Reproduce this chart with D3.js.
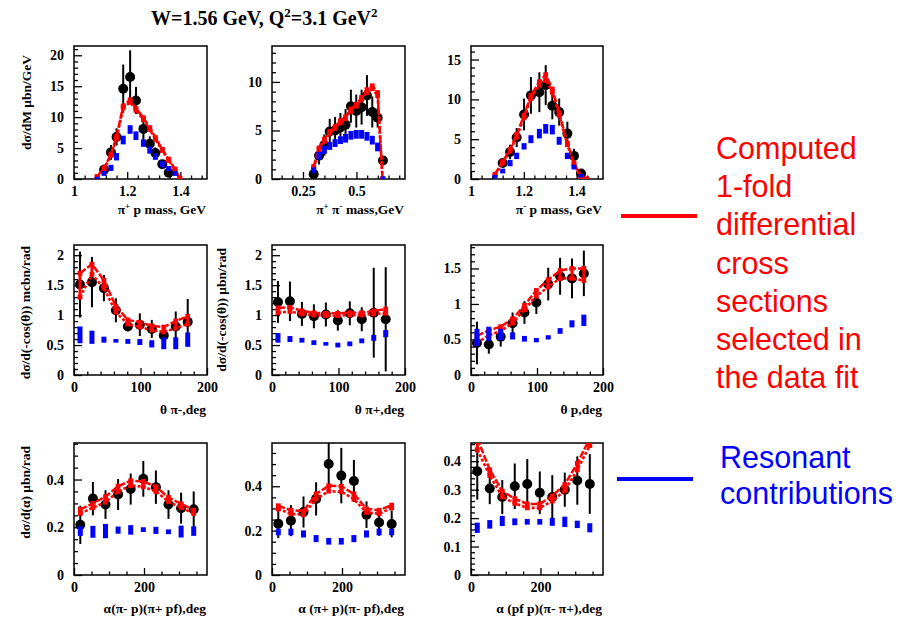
<!DOCTYPE html>
<html><head><meta charset="utf-8">
<script src="https://cdn.jsdelivr.net/npm/d3@7"></script>
<style>body{margin:0;background:#fff}svg{display:block}</style>
</head><body>
<svg id="c" width="902" height="619"></svg>
<script>
// ================= DATA =================
// Panel 1: pi+ p mass
const p1X = [1.113, 1.139, 1.160, 1.185, 1.211, 1.233, 1.261, 1.285, 1.306, 1.332, 1.356];
const p1Y = [1.5, 4.3, 6.8, 14.6, 16.5, 12.7, 8.1, 5.7, 4.2, 2.4, 1.0];
const p1E = [0.8, 1.2, 1.4, 3.9, 4.3, 2.2, 2.0, 1.2, 0.9, 0.6, 0.5];
const p1RedX = [1.087, 1.113, 1.139, 1.160, 1.185, 1.211, 1.233, 1.261, 1.285, 1.306, 1.332, 1.356, 1.380, 1.398];
const p1RedA = [0.4, 1.8, 4.0, 6.9, 11.8, 12.8, 11.4, 9.9, 8.3, 6.7, 4.8, 3.2, 1.6, 0.1];
const p1RedB = [0.3, 1.6, 3.8, 6.6, 11.5, 12.4, 11.1, 9.6, 8.0, 6.4, 4.6, 3.0, 1.4, 0.0];
const p1BlueX = [1.087, 1.113, 1.139, 1.160, 1.185, 1.211, 1.233, 1.261, 1.285, 1.306, 1.332, 1.356, 1.380];
const p1Blue = [0.1, 0.9, 1.8, 3.6, 6.3, 8.0, 7.0, 5.8, 4.7, 3.6, 2.4, 1.7, 0.9];
const p1BlueE = [0.2, 0.4, 0.5, 0.6, 0.7, 0.7, 0.7, 0.6, 0.6, 0.5, 0.5, 0.4, 0.4];

// Panel 2: pi+ pi- mass
const p2X = [0.300, 0.325, 0.350, 0.375, 0.400, 0.425, 0.449, 0.474, 0.499, 0.524, 0.549, 0.574, 0.599, 0.624];
const p2Y = [0.5, 2.4, 3.5, 4.9, 5.0, 5.3, 5.6, 7.5, 7.0, 7.4, 8.6, 6.9, 6.3, 1.9];
const p2E = [0.3, 0.9, 1.1, 1.3, 1.4, 1.5, 1.6, 1.7, 1.7, 1.8, 2.1, 1.6, 1.0, 0.3];
const p2RedX = [0.300, 0.325, 0.350, 0.375, 0.400, 0.425, 0.449, 0.474, 0.499, 0.524, 0.549, 0.574, 0.599, 0.622];
const p2RedA = [1.3, 3.2, 4.1, 4.9, 5.4, 6.0, 6.4, 7.2, 7.7, 8.4, 9.2, 9.6, 8.9, 0.0];
const p2RedB = [1.1, 3.0, 3.9, 4.7, 5.2, 5.8, 6.2, 7.0, 7.5, 8.2, 8.9, 9.3, 8.6, 0.0];
const p2Blue = [0.9, 2.4, 3.0, 3.4, 3.7, 4.0, 4.2, 4.5, 4.6, 4.6, 4.4, 4.0, 3.3, 0.1];
const p2BlueE = [0.3, 0.4, 0.4, 0.4, 0.4, 0.4, 0.45, 0.45, 0.45, 0.45, 0.45, 0.45, 0.45, 0.1];

// Panel 3: pi- p mass
const p3X = [1.120, 1.148, 1.173, 1.201, 1.227, 1.259, 1.283, 1.308, 1.334, 1.365, 1.390, 1.417];
const p3Y = [2.0, 3.4, 5.2, 8.1, 10.5, 10.9, 11.8, 9.2, 8.4, 5.7, 2.9, 0.7];
const p3E = [0.5, 0.9, 1.2, 2.0, 2.3, 2.5, 2.5, 1.7, 1.7, 1.5, 0.9, 0.3];
const p3RedX = [1.091, 1.120, 1.148, 1.173, 1.201, 1.227, 1.259, 1.283, 1.308, 1.334, 1.365, 1.390, 1.417, 1.438];
const p3RedA = [0.6, 2.2, 3.7, 5.6, 8.0, 10.5, 12.2, 13.1, 11.3, 8.3, 4.5, 2.0, 0.3, 0.0];
const p3RedB = [0.5, 2.0, 3.5, 5.3, 7.7, 10.1, 11.8, 12.4, 10.9, 8.0, 4.3, 1.8, 0.2, 0.0];
const p3BlueX = [1.091, 1.120, 1.148, 1.173, 1.201, 1.227, 1.259, 1.283, 1.308, 1.334, 1.365, 1.390, 1.417];
const p3Blue = [0.3, 1.0, 2.0, 2.9, 4.1, 5.0, 5.7, 6.3, 6.2, 4.8, 2.9, 1.5, 0.4];
const p3BlueE = [0.2, 0.3, 0.4, 0.4, 0.4, 0.5, 0.6, 0.6, 0.6, 0.5, 0.4, 0.3, 0.2];

// Row 2: theta bins (deg)
const thetaX = [9, 27, 45, 63, 81, 99, 117, 135, 153, 171];
const p4Y = [1.51, 1.55, 1.45, 1.08, 0.81, 0.84, 0.77, 0.66, 0.81, 0.89];
const p4E = [0.55, 0.42, 0.22, 0.20, 0.08, 0.19, 0.15, 0.03, 0.25, 0.38];
const p4RedA = [1.70, 1.85, 1.58, 1.15, 0.92, 0.88, 0.82, 0.80, 0.90, 0.98];
const p4RedB = [1.30, 1.68, 1.45, 1.05, 0.85, 0.80, 0.75, 0.72, 0.78, 0.85];
const p4Blue = [0.67, 0.63, 0.59, 0.57, 0.56, 0.55, 0.52, 0.53, 0.53, 0.59];
const p4BlueE = [0.14, 0.11, 0.05, 0.03, 0.04, 0.05, 0.06, 0.10, 0.10, 0.12];

const p5Y = [1.22, 1.23, 1.02, 0.98, 1.01, 0.91, 1.03, 0.93, 1.04, 0.93];
const p5E = [0.35, 0.33, 0.20, 0.20, 0.20, 0.17, 0.20, 0.20, 0.75, 0.87];
const p5RedA = [1.12, 1.13, 1.07, 1.04, 1.03, 1.03, 1.04, 1.04, 1.07, 1.10];
const p5RedB = [1.04, 1.06, 1.02, 1.00, 0.99, 0.99, 1.00, 1.00, 1.02, 1.03];
const p5Blue = [0.62, 0.60, 0.58, 0.54, 0.52, 0.50, 0.52, 0.57, 0.62, 0.69];
const p5BlueE = [0.08, 0.05, 0.04, 0.04, 0.03, 0.04, 0.04, 0.04, 0.05, 0.06];

const p6Y = [0.45, 0.43, 0.54, 0.73, 0.88, 1.02, 1.28, 1.39, 1.36, 1.43];
const p6E = [0.30, 0.13, 0.14, 0.15, 0.16, 0.16, 0.23, 0.26, 0.28, 0.32];
const p6RedA = [0.55, 0.63, 0.68, 0.79, 0.98, 1.19, 1.34, 1.47, 1.50, 1.50];
const p6RedB = [0.45, 0.56, 0.62, 0.73, 0.92, 1.11, 1.24, 1.36, 1.36, 1.33];
const p6Blue = [0.53, 0.58, 0.57, 0.55, 0.51, 0.49, 0.53, 0.62, 0.72, 0.77];
const p6BlueE = [0.12, 0.10, 0.08, 0.05, 0.04, 0.03, 0.03, 0.04, 0.05, 0.08];

// Row 3: alpha bins (deg)
const alphaX = [18, 54, 90, 126, 162, 198, 234, 270, 306, 342];
const p7Y = [0.210, 0.320, 0.295, 0.337, 0.360, 0.403, 0.368, 0.295, 0.280, 0.275];
const p7E = [0.080, 0.070, 0.060, 0.065, 0.065, 0.075, 0.070, 0.060, 0.065, 0.075];
const p7RedA = [0.275, 0.300, 0.328, 0.372, 0.395, 0.392, 0.370, 0.325, 0.298, 0.272];
const p7RedB = [0.258, 0.282, 0.305, 0.350, 0.375, 0.370, 0.350, 0.308, 0.282, 0.258];
const p7Blue = [0.184, 0.181, 0.184, 0.188, 0.189, 0.190, 0.187, 0.181, 0.182, 0.184];
const p7BlueE = [0.020, 0.025, 0.030, 0.015, 0.020, 0.010, 0.015, 0.010, 0.025, 0.020];

const p8Y = [0.231, 0.245, 0.284, 0.343, 0.500, 0.448, 0.424, 0.272, 0.237, 0.230];
const p8E = [0.065, 0.070, 0.070, 0.075, 0.110, 0.125, 0.095, 0.060, 0.060, 0.060];
const p8RedA = [0.312, 0.292, 0.288, 0.365, 0.402, 0.400, 0.365, 0.298, 0.292, 0.315];
const p8RedB = [0.298, 0.276, 0.272, 0.342, 0.378, 0.375, 0.342, 0.282, 0.276, 0.302];
const p8Blue = [0.194, 0.194, 0.185, 0.164, 0.152, 0.152, 0.164, 0.185, 0.194, 0.194];
const p8BlueE = [0.015, 0.015, 0.016, 0.016, 0.015, 0.015, 0.016, 0.016, 0.015, 0.015];

const p9Y = [0.365, 0.304, 0.274, 0.312, 0.320, 0.289, 0.274, 0.300, 0.332, 0.320];
const p9E = [0.100, 0.055, 0.060, 0.080, 0.088, 0.075, 0.077, 0.060, 0.085, 0.105];
const p9RedA = [0.480, 0.370, 0.295, 0.268, 0.250, 0.250, 0.278, 0.318, 0.392, 0.480];
const p9RedB = [0.440, 0.350, 0.275, 0.252, 0.236, 0.236, 0.260, 0.296, 0.370, 0.455];
const p9Blue = [0.166, 0.178, 0.190, 0.187, 0.187, 0.187, 0.187, 0.187, 0.178, 0.166];
const p9BlueE = [0.018, 0.015, 0.018, 0.012, 0.010, 0.010, 0.014, 0.018, 0.013, 0.016];

// Tick labels
const xTicksMassP = [1, 1.2, 1.4];
const xTicksMassPP = [0.25, 0.5];
const xTicksTheta = [0, 100, 200];
const xTicksAlpha = [0, 200];
const yTicksP1 = [0, 5, 10, 15, 20];
const yTicksP2 = [0, 5, 10];
const yTicksP3 = [0, 5, 10, 15];
const yTicksTheta = [0, 0.5, 1, 1.5, 2];
const yTicksP6 = [0, 0.5, 1, 1.5];
const yTicksAlpha = [0, 0.2, 0.4];
const yTicksP9 = [0, 0.1, 0.2, 0.3, 0.4];

// Titles and legend text
const chartTitle = [["W=1.56 GeV, Q",""],["2","sup"],["=3.1 GeV",""],["2","sup"]];
const legendRed = ["Computed","1-fold","differential","cross","sections","selected in","the data fit"];
const legendBlue = ["Resonant","contributions"];

// ================= LAYOUT =================
const cols = [[74,207],[272,405],[471,603]];
const rows = [[46,179],[245,375],[443,575]];
const SERIF = "'Liberation Serif','Times New Roman',serif";
const SANS = "'Liberation Sans',Arial,sans-serif";

const panels = [
 {c:0,r:0,xd:[1,1.5],yd:[0,21.5],xt:xTicksMassP,xm:[1,1.5,0.04],yt:yTicksP1,ym:[0,21.5,1],
  pts:[p1X,p1Y,p1E],reds:[[p1RedX,p1RedA],[p1RedX,p1RedB]],blue:[p1BlueX,p1Blue,p1BlueE],
  xTitle:[["π",""],["+","sup"],[" p mass, GeV",""]], yTitle:"dσ/dM μbn/GeV", yTitleX:31, yTitleEnd:55},
 {c:1,r:0,xd:[0.105,0.727],yd:[0,13.7],xt:xTicksMassPP,xm:[0.15,0.727,0.05],yt:yTicksP2,ym:[0,13.7,1],
  pts:[p2X,p2Y,p2E],reds:[[p2RedX,p2RedA],[p2RedX,p2RedB]],blue:[p2X,p2Blue,p2BlueE],
  xTitle:[["π",""],["+","sup"],[" π",""],["-","sup"],[" mass,GeV",""]]},
 {c:2,r:0,xd:[1,1.5],yd:[0,16.7],xt:xTicksMassP,xm:[1,1.5,0.04],yt:yTicksP3,ym:[0,16.7,1],
  pts:[p3X,p3Y,p3E],reds:[[p3RedX,p3RedA],[p3RedX,p3RedB]],blue:[p3BlueX,p3Blue,p3BlueE],
  xTitle:[["π",""],["-","sup"],[" p mass, GeV",""]]},
 {c:0,r:1,xd:[0,200],yd:[0,2.17],xt:xTicksTheta,xm:[0,200,20],yt:yTicksTheta,ym:[0,2.17,0.1],
  pts:[thetaX,p4Y,p4E],reds:[[thetaX,p4RedA],[thetaX,p4RedB]],blue:[thetaX,p4Blue,p4BlueE],
  xTitle:[["θ π-,deg",""]], yTitle:"dσ/d(-cos(θ)) mcbn/rad", yTitleX:30, yTitleEnd:246},
 {c:1,r:1,xd:[0,200],yd:[0,2.17],xt:xTicksTheta,xm:[0,200,20],yt:yTicksTheta,ym:[0,2.17,0.1],
  pts:[thetaX,p5Y,p5E],reds:[[thetaX,p5RedA],[thetaX,p5RedB]],blue:[thetaX,p5Blue,p5BlueE],
  xTitle:[["θ π+,deg",""]], yTitle:"dσ/d(-cos(θ)) μbn/rad", yTitleX:226, yTitleEnd:248},
 {c:2,r:1,xd:[0,200],yd:[0,1.83],xt:xTicksTheta,xm:[0,200,20],yt:yTicksP6,ym:[0,1.83,0.1],
  pts:[thetaX,p6Y,p6E],reds:[[thetaX,p6RedA],[thetaX,p6RedB]],blue:[thetaX,p6Blue,p6BlueE],
  xTitle:[["θ p,deg",""]]},
 {c:0,r:2,xd:[0,380],yd:[0,0.553],xt:xTicksAlpha,xm:[0,380,50],yt:yTicksAlpha,ym:[0,0.553,0.05],
  pts:[alphaX,p7Y,p7E],reds:[[alphaX,p7RedA],[alphaX,p7RedB]],blue:[alphaX,p7Blue,p7BlueE],
  xTitle:[["α(π- p)(π+ pf),deg",""]], yTitle:"dσ/d(α) μbn/rad", yTitleX:30, yTitleEnd:446},
 {c:1,r:2,xd:[0,380],yd:[0,0.595],xt:xTicksAlpha,xm:[0,380,50],yt:yTicksAlpha,ym:[0,0.595,0.05],
  pts:[alphaX,p8Y,p8E],reds:[[alphaX,p8RedA],[alphaX,p8RedB]],blue:[alphaX,p8Blue,p8BlueE],
  xTitle:[["α (π+ p)(π- pf),deg",""]]},
 {c:2,r:2,xd:[0,380],yd:[0,0.464],xt:xTicksAlpha,xm:[0,380,50],yt:yTicksP9,ym:[0,0.464,0.02],
  pts:[alphaX,p9Y,p9E],reds:[[alphaX,p9RedA],[alphaX,p9RedB]],blue:[alphaX,p9Blue,p9BlueE],
  xTitle:[["α (pf p)(π- π+),deg",""]]}
];

const svg = d3.select("#c");
const defs = svg.append("defs");

function addSegments(textSel, segs, supSize, rise) {
  let pending = 0;
  segs.forEach(([t, kind]) => {
    const ts = textSel.append("tspan").text(t);
    if (kind === "sup") {
      ts.attr("font-size", supSize).attr("dy", -rise + pending);
      pending = rise;
    } else {
      if (pending) ts.attr("dy", pending);
      pending = 0;
    }
  });
}

panels.forEach((p, i) => {
  const [L, R] = cols[p.c], [T, B] = rows[p.r];
  const x = d3.scaleLinear().domain(p.xd).range([L, R]);
  const y = d3.scaleLinear().domain(p.yd).range([B, T]);
  const g = svg.append("g");
  const cid = "clip" + i;
  defs.append("clipPath").attr("id", cid).append("rect")
    .attr("x", L).attr("y", T).attr("width", R - L).attr("height", B - T);

  const inRange = (v, d) => v > d[0] + 1e-9 && v < d[1] - 1e-9;
  const xMinor = d3.range(p.xm[0], p.xm[1] + 1e-9, p.xm[2]).filter(v => inRange(v, p.xd) && !p.xt.some(t => Math.abs(t - v) < 1e-6));
  const yMinor = d3.range(p.ym[0], p.ym[1] + 1e-9, p.ym[2]).filter(v => inRange(v, p.yd) && !p.yt.some(t => Math.abs(t - v) < 1e-6));
  g.append("g").attr("transform", `translate(0,${B})`)
    .call(d3.axisBottom(x).tickValues(xMinor).tickSize(-3.5).tickFormat(""));
  g.append("g").attr("transform", `translate(${L},0)`)
    .call(d3.axisLeft(y).tickValues(yMinor).tickSize(-4).tickFormat(""));
  const xa = g.append("g").attr("transform", `translate(0,${B})`)
    .call(d3.axisBottom(x).tickValues(p.xt).tickSize(-7).tickPadding(7).tickFormat(d => String(d)));
  const ya = g.append("g").attr("transform", `translate(${L},0)`)
    .call(d3.axisLeft(y).tickValues(p.yt).tickSize(-8).tickPadding(10).tickFormat(d => String(d)));
  g.selectAll(".domain").remove();
  g.selectAll(".tick line").attr("stroke", "#000").attr("stroke-width", 1.3);
  [xa, ya].forEach(a => a.selectAll("text")
    .attr("font-family", SERIF).attr("font-weight", "bold").attr("font-size", 14).attr("fill", "#000"));
  g.append("rect").attr("x", L).attr("y", T).attr("width", R - L).attr("height", B - T)
    .attr("fill", "none").attr("stroke", "#000").attr("stroke-width", 1.5);

  const plot = g.append("g").attr("clip-path", `url(#${cid})`);
  const [px, py, pe] = p.pts;
  const pd = px.map((v, k) => ({x: v, y: py[k], e: pe[k]}));
  plot.selectAll(".eb").data(pd).join("line")
    .attr("x1", d => x(d.x)).attr("x2", d => x(d.x))
    .attr("y1", d => y(d.y - d.e)).attr("y2", d => y(d.y + d.e))
    .attr("stroke", "#000").attr("stroke-width", 2);
  plot.selectAll(".pt").data(pd).join("circle")
    .attr("cx", d => x(d.x)).attr("cy", d => y(d.y)).attr("r", 5).attr("fill", "#000");

  p.reds.forEach(([rx, ry], k) => {
    const rd = rx.map((v, j) => [v, ry[j]]);
    plot.append("path").datum(rd)
      .attr("d", d3.line().x(d => x(d[0])).y(d => y(d[1])))
      .attr("fill", "none").attr("stroke", "#ff0000")
      .attr("stroke-width", k === 0 ? 2.5 : 2.6)
      .attr("stroke-dasharray", k === 0 ? "7,2" : "3,2");
    plot.selectAll(null).data(rd).join("rect")
      .attr("x", d => x(d[0]) - 2.4).attr("y", d => y(d[1]) - 2.4)
      .attr("width", 4.8).attr("height", 4.8).attr("fill", "#ff0000");
  });
  const [rxA, ryA] = p.reds[0], [, ryB] = p.reds[1];
  plot.selectAll(null).data(rxA.map((v, j) => [v, ryA[j], ryB[j]])).join("line")
    .attr("x1", d => x(d[0])).attr("x2", d => x(d[0]))
    .attr("y1", d => y(d[1])).attr("y2", d => y(d[2]))
    .attr("stroke", "#ff0000").attr("stroke-width", 3);

  const [bx, by, be] = p.blue;
  const bd = bx.map((v, k) => ({x: v, y: by[k], e: be[k]}));
  plot.selectAll(".bb").data(bd).join("rect")
    .attr("x", d => x(d.x) - 2.5).attr("width", 5)
    .attr("y", d => Math.min(y(d.y + d.e), y(d.y) - 1.7))
    .attr("height", d => Math.max(y(d.y - d.e) - y(d.y + d.e), 3.4))
    .attr("fill", "#0000ff");

  const xtY = [214, 414, 613][p.r];
  const xt = svg.append("text").attr("x", R - 1).attr("y", xtY).attr("text-anchor", "end")
    .attr("font-family", SERIF).attr("font-weight", "bold").attr("font-size", 13.5).attr("fill", "#000");
  addSegments(xt, p.xTitle, 9, 5);

  if (p.yTitle) {
    svg.append("text").attr("transform", `translate(${p.yTitleX},${p.yTitleEnd}) rotate(-90)`)
      .attr("text-anchor", "end").attr("font-family", SERIF).attr("font-weight", "bold")
      .attr("font-size", 13.5).attr("fill", "#000").text(p.yTitle);
  }
});

// chart title
const tt = svg.append("text").attr("x", 151).attr("y", 25)
  .attr("font-family", SERIF).attr("font-weight", "bold").attr("font-size", 20).attr("fill", "#000");
addSegments(tt, chartTitle, 13, 8);

// legend
svg.append("line").attr("x1", 621).attr("x2", 697).attr("y1", 216).attr("y2", 216)
  .attr("stroke", "#ff0000").attr("stroke-width", 4);
svg.append("line").attr("x1", 617).attr("x2", 693).attr("y1", 479).attr("y2", 479)
  .attr("stroke", "#0000ff").attr("stroke-width", 4);
svg.selectAll(".lr").data(legendRed).join("text")
  .attr("x", 716).attr("y", (d, i) => 159 + i * 38.2)
  .attr("font-family", SANS).attr("font-size", 30.5).attr("fill", "#ff0000").text(d => d);
svg.selectAll(".lb").data(legendBlue).join("text")
  .attr("x", 720).attr("y", (d, i) => 468 + i * 36)
  .attr("font-family", SANS).attr("font-size", 30.5).attr("fill", "#0000ff").text(d => d);
</script>
</body></html>
